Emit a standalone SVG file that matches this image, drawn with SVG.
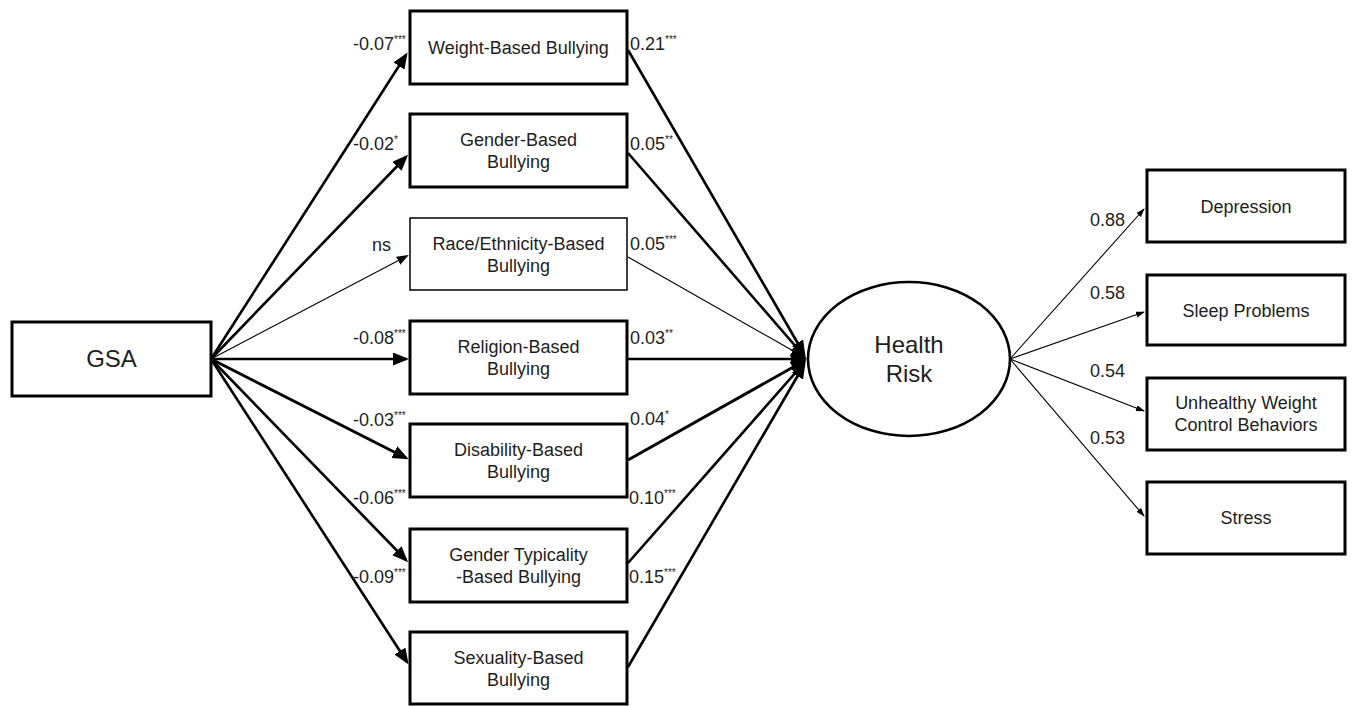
<svg xmlns="http://www.w3.org/2000/svg" width="1354" height="706" viewBox="0 0 1354 706">
<style>
text{font-family:"Liberation Sans",Arial,sans-serif;font-size:18px;fill:#1e1e1e}
.m{text-anchor:middle}
.box{fill:#fff;stroke:#000;stroke-width:3}
.thin{stroke-width:1.5}
.c{stroke:#000;fill:none}
.t{stroke-width:2.6}
.n{stroke-width:1.1}
.sup{font-size:10px}
</style>
<defs>
<marker id="big" markerUnits="userSpaceOnUse" markerWidth="18" markerHeight="14" refX="13" refY="6.5" orient="auto"><path d="M0,0 L16,6.5 L0,13 z" fill="#000"/></marker>
<marker id="mid" markerUnits="userSpaceOnUse" markerWidth="14" markerHeight="10" refX="10" refY="4.5" orient="auto"><path d="M0,0 L12,4.5 L0,9 z" fill="#000"/></marker>
<marker id="sm" markerUnits="userSpaceOnUse" markerWidth="10" markerHeight="8" refX="8" refY="3" orient="auto"><path d="M0,0 L9,3 L0,6 z" fill="#000"/></marker>
</defs>
<g id="connectors">
<line class="c t" x1="211" y1="359" x2="406" y2="55" marker-end="url(#big)"/>
<line class="c t" x1="211" y1="359" x2="406" y2="157" marker-end="url(#big)"/>
<line class="c n" x1="211" y1="359" x2="407" y2="256" marker-end="url(#mid)"/>
<line class="c t" x1="211" y1="359" x2="406" y2="359" marker-end="url(#big)"/>
<line class="c" stroke-width="3" x1="211" y1="359" x2="406" y2="458" marker-end="url(#big)"/>
<line class="c t" x1="211" y1="359" x2="406" y2="560" marker-end="url(#big)"/>
<line class="c t" x1="211" y1="359" x2="407" y2="662" marker-end="url(#big)"/>
<line class="c t" x1="628" y1="50" x2="804" y2="354" marker-end="url(#big)"/>
<line class="c t" x1="628" y1="153" x2="804" y2="356" marker-end="url(#big)"/>
<line class="c n" x1="628" y1="257" x2="804" y2="357" marker-end="url(#big)"/>
<line class="c t" x1="628" y1="359" x2="804" y2="359" marker-end="url(#big)"/>
<line class="c" stroke-width="3" x1="628" y1="460" x2="804" y2="361" marker-end="url(#big)"/>
<line class="c t" x1="628" y1="563" x2="804" y2="363" marker-end="url(#big)"/>
<line class="c t" x1="628" y1="667" x2="804" y2="365" marker-end="url(#big)"/>
<line class="c n" x1="1010" y1="359" x2="1144" y2="209" marker-end="url(#sm)"/>
<line class="c n" x1="1010" y1="359" x2="1144" y2="312" marker-end="url(#sm)"/>
<line class="c n" x1="1010" y1="359" x2="1144" y2="411" marker-end="url(#sm)"/>
<line class="c n" x1="1010" y1="359" x2="1144" y2="516" marker-end="url(#sm)"/>
</g>
<g id="gsa"><rect class="box" x="12" y="322" width="199" height="74"/><text class="m" x="111.5" y="367" style="font-size:24px">GSA</text></g>
<g id="weight"><rect class="box" x="410" y="11" width="217" height="73"/><text class="m" x="518.5" y="54">Weight-Based Bullying</text></g>
<g id="gender"><rect class="box" x="410" y="114" width="217" height="73"/><text class="m" x="518.5" y="146">Gender-Based</text><text class="m" x="518.5" y="168">Bullying</text></g>
<g id="race"><rect class="box thin" x="410" y="218" width="217" height="72"/><text class="m" x="518.5" y="250">Race/Ethnicity-Based</text><text class="m" x="518.5" y="272">Bullying</text></g>
<g id="religion"><rect class="box" x="410" y="321" width="217" height="73"/><text class="m" x="518.5" y="353">Religion-Based</text><text class="m" x="518.5" y="375">Bullying</text></g>
<g id="disability"><rect class="box" x="410" y="424" width="217" height="73"/><text class="m" x="518.5" y="456">Disability-Based</text><text class="m" x="518.5" y="478">Bullying</text></g>
<g id="gendertyp"><rect class="box" x="410" y="529" width="217" height="73"/><text class="m" x="518.5" y="561">Gender Typicality</text><text class="m" x="518.5" y="583">-Based Bullying</text></g>
<g id="sexuality"><rect class="box" x="410" y="632" width="217" height="72"/><text class="m" x="518.5" y="664">Sexuality-Based</text><text class="m" x="518.5" y="686">Bullying</text></g>
<g id="healthrisk"><ellipse cx="909" cy="359" rx="101" ry="77" fill="#fff" stroke="#000" stroke-width="2.6"/><text class="m" x="909" y="353" style="font-size:24px">Health</text><text class="m" x="909" y="382" style="font-size:24px">Risk</text></g>
<g id="depression"><rect class="box" x="1147" y="170" width="198" height="72"/><text class="m" x="1246" y="213">Depression</text></g>
<g id="sleep"><rect class="box" x="1147" y="275" width="198" height="70"/><text class="m" x="1246" y="317">Sleep Problems</text></g>
<g id="uwcb"><rect class="box" x="1147" y="378" width="198" height="72"/><text class="m" x="1246" y="409">Unhealthy Weight</text><text class="m" x="1246" y="431">Control Behaviors</text></g>
<g id="stress"><rect class="box" x="1147" y="482" width="198" height="72"/><text class="m" x="1246" y="524">Stress</text></g>
<g id="labels">
<text x="353" y="50">-0.07<tspan class="sup" dy="-7">***</tspan></text>
<text x="353" y="150">-0.02<tspan class="sup" dy="-7">*</tspan></text>
<text x="372" y="251">ns</text>
<text x="353" y="344">-0.08<tspan class="sup" dy="-7">***</tspan></text>
<text x="353" y="426">-0.03<tspan class="sup" dy="-7">***</tspan></text>
<text x="353" y="504">-0.06<tspan class="sup" dy="-7">***</tspan></text>
<text x="353" y="583">-0.09<tspan class="sup" dy="-7">***</tspan></text>
<text x="630" y="50">0.21<tspan class="sup" dy="-7">***</tspan></text>
<text x="630" y="150">0.05<tspan class="sup" dy="-7">**</tspan></text>
<text x="630" y="250">0.05<tspan class="sup" dy="-7">***</tspan></text>
<text x="630" y="344">0.03<tspan class="sup" dy="-7">**</tspan></text>
<text x="630" y="425">0.04<tspan class="sup" dy="-7">*</tspan></text>
<text x="629" y="504">0.10<tspan class="sup" dy="-7">***</tspan></text>
<text x="629" y="583">0.15<tspan class="sup" dy="-7">***</tspan></text>
<text x="1090" y="226">0.88</text>
<text x="1090" y="299">0.58</text>
<text x="1090" y="377">0.54</text>
<text x="1090" y="444">0.53</text>
</g>
</svg>
